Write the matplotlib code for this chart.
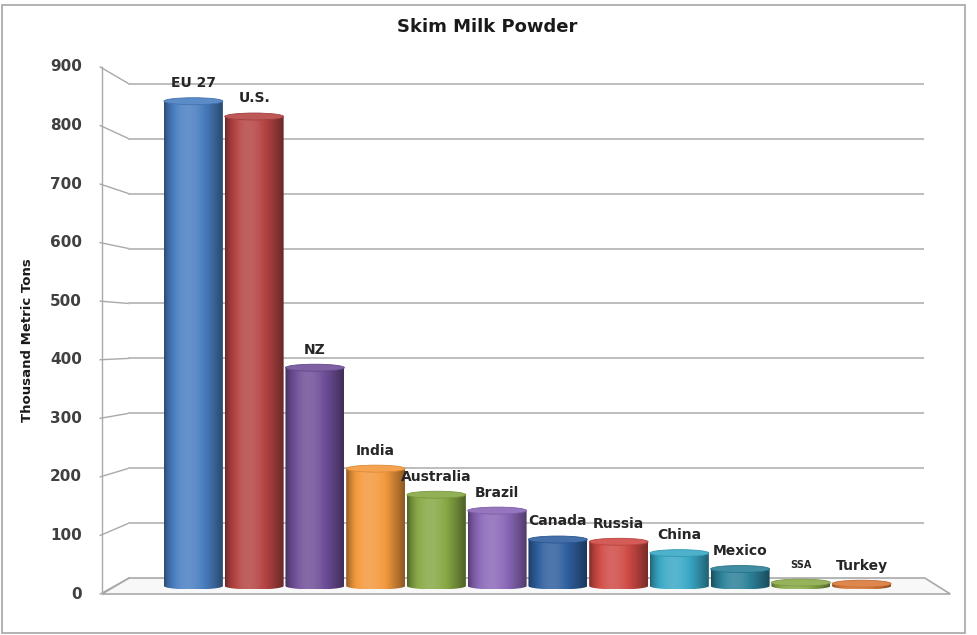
import numpy as np
import matplotlib.pyplot as plt
from matplotlib.patches import Ellipse, Polygon, Rectangle, PathPatch
from matplotlib.path import Path
import matplotlib.colors as mcolors

# Data (thousand metric tons)
countries = ["EU 27", "U.S.", "NZ", "India", "Australia", "Brazil",
             "Canada", "Russia", "China", "Mexico", "SSA", "Turkey"]
production = [855, 828, 385, 207, 161, 133, 82, 78, 58, 30, 6, 4]
bar_colors = ["#4a7fc1", "#b54543", "#6f4f99", "#f4993c", "#86a844", "#8a67b8",
              "#2f5f9e", "#cf4a45", "#3aa8c6", "#2b8098", "#8aab4a", "#d9783a"]
y_ticks = [0, 100, 200, 300, 400, 500, 600, 700, 800, 900]

plt.rcParams['font.family'] = ['DejaVu Sans']

fig = plt.figure(figsize=(9.77, 6.35), dpi=100)
ax = fig.add_axes([0, 0, 1, 1])
ax.set_xlim(-3.184, 12.899)
ax.set_ylim(-86.4, 1033.5)
ax.axis('off')

# fake perspective: front edge and back wall use slightly different scales
front_x, back_x = -1.505, -1.06
grid_end, floor_back_r, floor_front_r = 12.01, 12.04, 12.46


def front_y(v):
    return -14.1 + 1.0328 * v


def back_y(v):
    return 14.1 + 0.9683 * v


# floor
floor = Polygon([(front_x, front_y(0)), (floor_front_r, front_y(0)),
                 (floor_back_r, back_y(0)), (back_x, back_y(0))],
                closed=True, facecolor="#f8f8f8", edgecolor="#a9a9a9", lw=1.2, zorder=1)
ax.add_patch(floor)

# gridlines on the back wall + slanted ticks to the front axis
for v in y_ticks:
    ax.plot([front_x - 0.03, back_x], [front_y(v), back_y(v)], color="#a9a9a9", lw=1, zorder=1)
    if v > 0:
        ax.plot([back_x, grid_end], [back_y(v), back_y(v)], color="#bdbdbd", lw=1.4, zorder=1)
    ax.text(-1.834, front_y(v), str(v), ha='right', va='center', fontsize=11,
            fontweight='bold', color="#404040")
ax.plot([front_x, front_x], [front_y(0), front_y(900)], color="#a9a9a9", lw=1, zorder=1)

# cylinder bars
width = 0.97
cap_h = 12.3
t = np.linspace(0, 1, 80)
shade = 0.58 + 0.57 * np.sin(np.pi * t ** 0.75)


def shaded(rgb, f):
    rgb = np.array(rgb)
    if f < 1:
        return rgb * f
    return rgb + (1 - rgb) * (f - 1)


for i, (name, val, col) in enumerate(zip(countries, production, bar_colors)):
    base = mcolors.to_rgb(col)
    img = np.array([[shaded(base, f) for f in shade]])
    x0, x1 = i - width / 2, i + width / 2
    theta = np.linspace(np.pi, 2 * np.pi, 40)
    verts = list(zip(i + width / 2 * np.cos(theta), cap_h / 2 * np.sin(theta)))
    verts += [(x1, val), (x0, val), verts[0]]
    clip = PathPatch(Path(verts), transform=ax.transData, fc='none', ec='none')
    ax.add_patch(clip)
    im = ax.imshow(img, extent=(x0, x1, -cap_h / 2, val), aspect='auto',
                   interpolation='bilinear', zorder=3 + i * 0.01)
    im.set_clip_path(clip)
    top = Ellipse((i, val), width, cap_h, facecolor=shaded(base, 1.1),
                  edgecolor=shaded(base, 0.9), lw=0.6, zorder=3.005 + i * 0.01)
    ax.add_patch(top)
    size = 7 if name == "SSA" else 10
    ax.annotate(name, (i, val), xytext=(0, 13), textcoords='offset points',
                ha='center', va='center', fontsize=size, fontweight='bold',
                color="#262626", zorder=5)

fig.text(487 / 977, 1 - 27 / 635, "Skim Milk Powder", ha='center', va='center',
         fontsize=13, fontweight='bold', color="#1a1a1a")
fig.text(28 / 977, 1 - 340 / 635, "Thousand Metric Tons", ha='center', va='center',
         rotation=90, fontsize=9.5, fontweight='bold', color="#1a1a1a")

fig.patches.append(Rectangle((2 / 977, 2 / 635), 963 / 977, 628 / 635,
                             transform=fig.transFigure, fill=False,
                             edgecolor="#a6a6a6", lw=1.2))

fig.savefig("out.png", dpi=100)
